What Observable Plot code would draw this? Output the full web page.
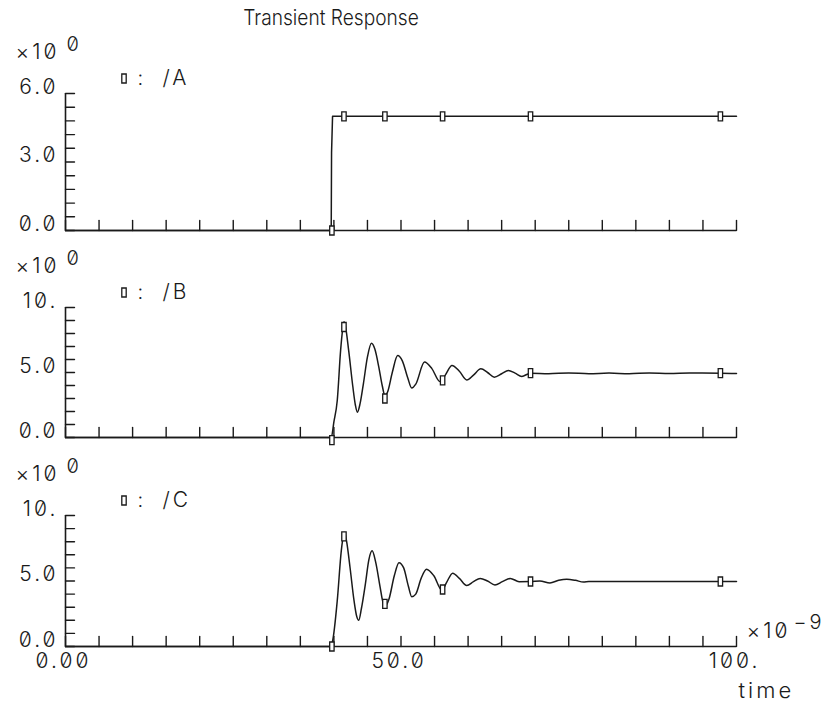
<!DOCTYPE html>
<html><head><meta charset="utf-8">
<script src="https://cdn.jsdelivr.net/npm/d3@7"></script>
<script src="https://cdn.jsdelivr.net/npm/@observablehq/plot@0.6"></script>
<style>
body{margin:0;background:#fff;}
#chart{position:relative;width:832px;height:702px;overflow:hidden;}
#chart > div{position:absolute;left:0;}
#chart > div.title{left:0;width:662px;top:4px;text-align:center;font-family:Inter,'DejaVu Sans',sans-serif;font-weight:300;font-size:22px;line-height:26px;color:#1a1a1a;transform:scaleX(0.87);transform-origin:331px 0;}
</style></head>
<body><div id="chart"></div>
<script>
// ---- data ----
const titleText = "Transient Response";
const seriesNames = ["/A", "/B", "/C"];

const timesA = [0, 39.6, 39.65, 39.8, 100];
const valsA  = [0, 0,    3.4,   5.0,  5.0];

const timesB = [0, 39.6, 40.0, 40.5, 41.0, 41.3, 41.5, 41.7, 42.2, 42.8, 43.2, 43.5, 43.9, 44.4, 45.0, 45.6, 46.1, 46.7, 47.2, 47.6, 48.0, 48.7, 49.5, 50.2, 51.0, 51.6, 52.2, 53.5, 54.6, 55.8, 56.6, 57.6, 58.7, 59.8, 60.8, 61.9, 62.9, 63.9, 65.0, 66.0, 67.0, 68.0, 69.3, 72, 75, 78, 81, 84, 87, 90, 93, 97.6, 100];
const valsB  = [0, 0,    1.2,  2.85, 6.7,  8.3,  8.9,  8.6,  6.7,  4.0,  2.5,  1.95, 2.6,  4.15, 6.2,  7.25, 6.8,  5.4,  4.0,  3.23, 3.5,  5.0,  6.3,  5.9,  4.6,  3.8,  4.1,  5.8,  5.3,  4.3,  4.8,  5.54, 5.1,  4.43, 4.8,  5.28, 5.0,  4.64, 4.9,  5.15, 4.95, 4.7,  4.95, 4.9, 4.97, 4.9, 4.96, 4.9, 4.97, 4.92, 4.96, 4.95, 4.92];

const timesC = [0, 39.5, 39.8, 40.5, 41.1, 41.4, 41.6, 41.9, 42.4, 43.0, 43.4, 43.7, 44.1, 44.7, 45.2, 45.7, 46.2, 46.9, 47.3, 47.7, 48.2, 49.0, 49.7, 50.4, 51.1, 51.6, 52.2, 53.0, 53.8, 54.9, 56.1, 56.8, 57.7, 58.7, 59.8, 60.8, 61.8, 62.9, 64.0, 65.1, 66.3, 67.6, 69.3, 70.7, 72.2, 73.5, 74.7, 76.0, 77.2, 78.0, 100];
const valsC  = [0, 0,    0.4,  3.5,  7.3,  8.4,  8.7,  8.0,  6.05, 3.5,  2.3,  2.0,  2.9,  4.8,  6.6,  7.3,  6.5,  4.5,  3.4,  3.1,  3.6,  5.4,  6.4,  6.0,  4.6,  3.8,  4.0,  5.2,  5.9,  5.4,  4.3,  4.9,  5.6,  5.2,  4.65, 4.95, 5.2,  5.0,  4.7,  4.95, 5.2,  4.95, 4.96, 5.0,  4.85, 5.05, 5.13, 5.05, 4.92, 4.97, 4.97];

const markerTimes = [39.7, 41.5, 47.6, 56.2, 69.3, 97.6];
const markerA = [0, 5.0, 5.0, 5.0, 5.0, 5.0];
const markerB = [-0.2, 8.5, 3.0, 4.4, 4.95, 4.95];
const markerC = [0, 8.4, 3.25, 4.35, 4.96, 4.96];

const xTickVals = [0,5,10,15,20,25,30,35,40,45,50,55,60,65,70,75,80,85,90,95,100];
const xLabelVals = [0, 50, 100];
const xLabelText = ["0.00", "50.0", "100."];
const xUnitText = "×10";
const xUnitExp = "−9";
const xAxisName = "time";

const yTicksA = [0,0.6,1.2,1.8,2.4,3.0,3.6,4.2,4.8,5.4,6.0];
const yLabelValsA = [0, 3, 6];
const yLabelTextA = ["0.0", "3.0", "6.0"];
const yTicksBC = [0,1,2,3,4,5,6,7,8,9,10];
const yLabelValsBC = [0, 5, 10];
const yLabelTextBC = ["0.0", "5.0", "10."];
const yUnitText = "×10";
const yUnitExp = "0";

// ---- helpers ----
const zip = (ts, vs) => ts.map((t, i) => ({t, v: vs[i]}));
const tickShape = {draw(ctx, l) { ctx.moveTo(0, 0); ctx.lineTo(0, -l); }};
const markSym = {draw(ctx) { ctx.rect(-2.2, -4.5, 4.4, 9); }};
const INK = "#1a1a1a";
const FONT = "font-family: Inter, 'DejaVu Sans', sans-serif; font-weight: 300; letter-spacing: 3px; font-variant-numeric: slashed-zero; font-feature-settings: 'zero' 1; background: transparent; overflow: visible;";

const title = document.createElement("div");
title.className = "title";
title.textContent = titleText;
document.getElementById("chart").appendChild(title);

function panel({top, height, marginTop, marginBottom, domain, yTicks, yLabelVals, yLabelText, series, markers, name, curve = "monotone-x", extra = []}) {
  const line = zip(series[0], series[1]);
  const mk = zip(markerTimes, markers);
  const p = Plot.plot({
    width: 832, height, marginLeft: 65, marginRight: 96, marginTop, marginBottom,
    x: {domain: [0, 100], axis: null},
    y: {domain, axis: null},
    style: FONT,
    marks: [
      Plot.ruleX([0], {stroke: INK, strokeWidth: 1.6}),
      Plot.ruleY([domain[0]], {stroke: INK, strokeWidth: 1.6}),
      Plot.vector(xTickVals, {x: d => d, frameAnchor: "bottom", length: 10, rotate: 0, anchor: "start", shape: tickShape, stroke: INK, strokeWidth: 1.4}),
      Plot.vector(yTicks, {y: d => d, frameAnchor: "left", length: 9, rotate: 90, anchor: "start", shape: tickShape, stroke: INK, strokeWidth: 1.4}),
      Plot.text(yLabelVals, {y: d => d, text: (d, i) => yLabelText[i], frameAnchor: "left", textAnchor: "end", lineAnchor: "bottom", dx: -7, fontSize: 21, fill: INK}),
      Plot.text([yUnitText], {frameAnchor: "top-left", textAnchor: "start", lineAnchor: "bottom", dx: -50, dy: -35, fontSize: 21, fill: INK}),
      Plot.text([yUnitExp], {frameAnchor: "top-left", textAnchor: "start", lineAnchor: "bottom", dx: 1, dy: -43, fontSize: 20, fill: INK}),
      Plot.dot([name], {frameAnchor: "top-left", dx: 58.5, dy: -15, symbol: markSym, stroke: INK, fill: "white", strokeWidth: 1.3}),
      Plot.text([":"], {frameAnchor: "top-left", textAnchor: "start", lineAnchor: "bottom", dx: 72, dy: -9, fontSize: 20, fill: INK}),
      Plot.text([name], {frameAnchor: "top-left", textAnchor: "start", lineAnchor: "bottom", dx: 97, dy: -9, fontSize: 21, fill: INK}),
      Plot.line(line, {x: "t", y: "v", stroke: INK, strokeWidth: 1.5, curve}),
      Plot.dot(mk, {x: "t", y: "v", symbol: markSym, stroke: INK, fill: "white", strokeWidth: 1.3}),
      ...extra
    ]
  });
  const wrap = document.createElement("div");
  wrap.style.top = top + "px";
  wrap.appendChild(p);
  document.getElementById("chart").appendChild(wrap);
}

panel({
  top: 0, height: 240, marginTop: 93, marginBottom: 10, domain: [0, 6],
  yTicks: yTicksA, yLabelVals: yLabelValsA, yLabelText: yLabelTextA,
  series: [timesA, valsA], markers: markerA, name: seriesNames[0], curve: "linear"
});
panel({
  top: 240, height: 210, marginTop: 67, marginBottom: 13, domain: [0, 10],
  yTicks: yTicksBC, yLabelVals: yLabelValsBC, yLabelText: yLabelTextBC,
  series: [timesB, valsB], markers: markerB, name: seriesNames[1]
});
panel({
  top: 450, height: 252, marginTop: 65, marginBottom: 56, domain: [0, 10],
  yTicks: yTicksBC, yLabelVals: yLabelValsBC, yLabelText: yLabelTextBC,
  series: [timesC, valsC], markers: markerC, name: seriesNames[2],
  extra: [
    Plot.text(xLabelVals, {x: d => d, text: (d, i) => xLabelText[i], frameAnchor: "bottom", textAnchor: "middle", lineAnchor: "top", dy: 7, dx: -2, fontSize: 21, fill: INK}),
    Plot.text([xUnitText], {frameAnchor: "bottom-right", textAnchor: "start", lineAnchor: "bottom", dx: 10, dy: -9, fontSize: 21, fill: INK}),
    Plot.text([xUnitExp], {frameAnchor: "bottom-right", textAnchor: "start", lineAnchor: "bottom", dx: 57, dy: -18, fontSize: 20, fill: INK}),
    Plot.text([xAxisName], {frameAnchor: "bottom-right", textAnchor: "start", lineAnchor: "bottom", dx: 2, dy: 51, fontSize: 22, fill: INK})
  ]
});
</script>
</body></html>
